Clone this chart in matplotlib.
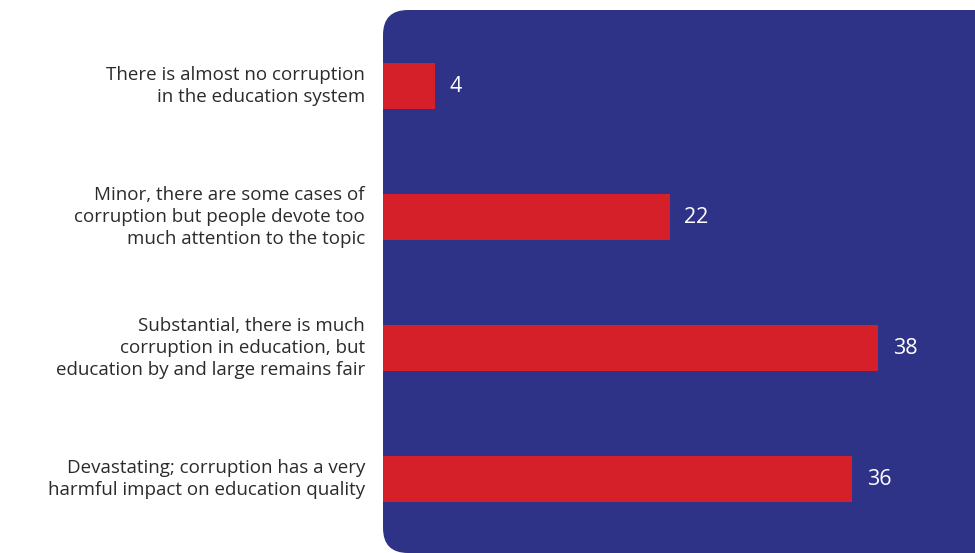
import matplotlib.pyplot as plt
from matplotlib.patches import FancyBboxPatch
from matplotlib.transforms import IdentityTransform

categories = [
    "There is almost no corruption\nin the education system",
    "Minor, there are some cases of\ncorruption but people devote too\nmuch attention to the topic",
    "Substantial, there is much\ncorruption in education, but\neducation by and large remains fair",
    "Devastating; corruption has a very\nharmful impact on education quality",
]
values = [4, 22, 38, 36]

W, H = 975, 553
fig = plt.figure(figsize=(W / 100, H / 100), dpi=100)
fig.patch.set_facecolor("white")

# rounded navy panel (display pixels, runs off the right edge)
panel = FancyBboxPatch((383, 0), 700, 543,
                       boxstyle="round,pad=0,rounding_size=25",
                       transform=IdentityTransform(),
                       facecolor="#2E3388", edgecolor="none", zorder=-1)
fig.patches.append(panel)

ax = fig.add_axes([383 / W, 0, 1 - 383 / W, 1])
ax.set_zorder(1)
ax.patch.set_alpha(0)
ax.set_xlim(0, 592 / 13.03)
ax.set_ylim(467 / 131, -86 / 131)

ypos = range(len(values))
ax.barh(ypos, values, height=0.35, color="#D5202A", zorder=2)

for y, v in zip(ypos, values):
    ax.annotate(str(v), (v, y), xytext=(10.5, 0), textcoords="offset points",
                ha="left", va="center", color="white", fontsize=15.5,
                family="Open Sans")

for y, lab in zip(ypos, categories):
    ax.annotate(lab, (0, y), xytext=(-13, 0), textcoords="offset points",
                ha="right", va="center", color="#2b2b2b", fontsize=13.5,
                family="Open Sans", linespacing=1.3)

ax.set_xticks([])
ax.set_yticks([])
for s in ax.spines.values():
    s.set_visible(False)

fig.savefig("out.png", dpi=100)
